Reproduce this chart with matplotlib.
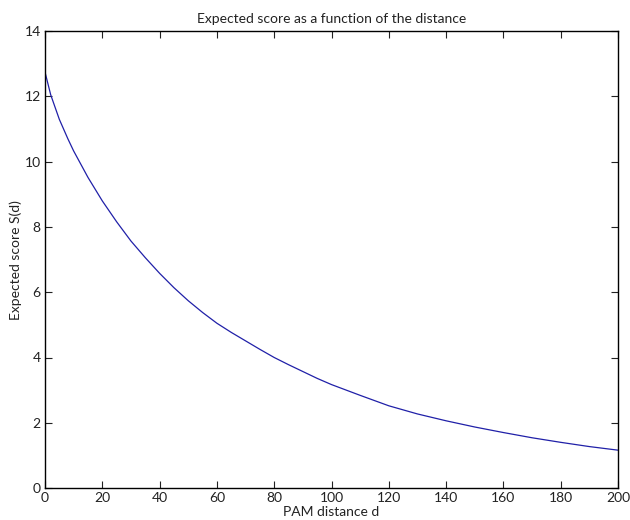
import numpy as np
import matplotlib
matplotlib.use('Agg')
import matplotlib.pyplot as plt

# PAM distance and expected score
pam_distance = [0, 2, 5, 8, 10, 15, 20, 25, 30, 35, 40, 45, 50, 55, 60, 65,
                70, 75, 80, 85, 90, 95, 100, 110, 120, 130, 140, 150, 160, 170, 180, 190, 200]
expected_score = [12.75, 12.05, 11.3, 10.7, 10.33, 9.52, 8.8, 8.16, 7.57, 7.06, 6.58, 6.14, 5.74, 5.38, 5.05, 4.77,
                  4.51, 4.25, 4.0, 3.78, 3.57, 3.36, 3.17, 2.84, 2.52, 2.27, 2.06, 1.87, 1.70, 1.54, 1.40, 1.27, 1.16]

x_ticks = list(range(0, 201, 20))
y_ticks = list(range(0, 15, 2))

plt.rcParams['font.family'] = ['Lato', 'DejaVu Sans']
plt.rcParams['font.size'] = 10

fig = plt.figure(figsize=(6.3, 5.2), dpi=100)
ax = fig.add_axes([0.0714, 0.0615, 0.9096, 0.8785])

ax.plot(pam_distance, expected_score, color='#2020a8', linewidth=0.9)

ax.set_xlim(0, 200)
ax.set_ylim(0, 14)
ax.set_xticks(x_ticks)
ax.set_yticks(y_ticks)
ax.tick_params(direction='in', top=True, right=True, length=5, width=0.8,
               labelsize=10, colors='#222222', pad=3)
for s in ax.spines.values():
    s.set_linewidth(1.0)

ax.set_title('Expected score as a function of the distance', fontsize=10, pad=6, color='#222222')
ax.set_xlabel('PAM distance d', fontsize=10, labelpad=1, color='#222222')
ax.set_ylabel('Expected score S(d)', fontsize=10, labelpad=2, color='#222222')

fig.savefig('out.png', dpi=100)
